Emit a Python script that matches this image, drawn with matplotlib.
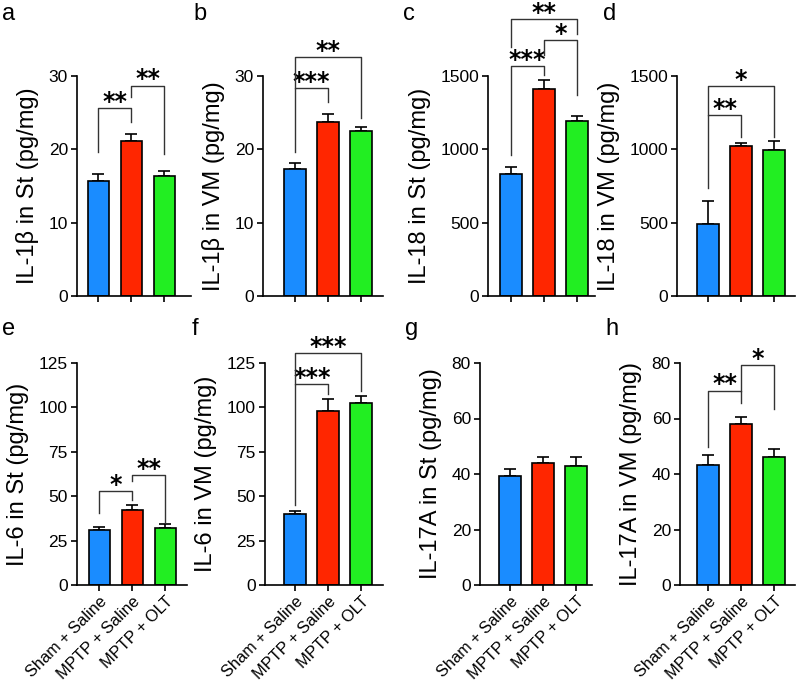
import matplotlib
matplotlib.use("Agg")
import matplotlib.pyplot as plt

plt.rcParams['font.family'] = ['Liberation Sans', 'DejaVu Sans']

groups = ["Sham + Saline", "MPTP + Saline", "MPTP + OLT"]
colors = ["#1a8cff", "#ff2600", "#22ee22"]

il1b_st = [15.7, 21.1, 16.4]
il1b_st_err = [1.0, 0.95, 0.6]
il1b_vm = [17.3, 23.7, 22.5]
il1b_vm_err = [0.8, 1.1, 0.5]
il18_st = [832, 1409, 1191]
il18_st_err = [50, 64, 34]
il18_vm = [491, 1025, 995]
il18_vm_err = [157, 20, 62]
il6_st = [31.2, 42.2, 32.0]
il6_st_err = [1.3, 2.7, 2.2]
il6_vm = [40.0, 98.2, 102.3]
il6_vm_err = [1.7, 6.4, 4.3]
il17_st = [39.4, 43.9, 42.8]
il17_st_err = [2.5, 2.2, 3.3]
il17_vm = [43.1, 58.0, 46.3]
il17_vm_err = [3.8, 2.4, 2.8]

# significance brackets: (left bar, right bar, top, left leg end, right leg end, label)
sig_a = [(0, 1, 25.6, 19.65, 23.7, "**"), (1, 2, 28.7, 27.1, 19.3, "**")]
sig_b = [(0, 1, 28.3, 19.65, 26.4, "***"), (0, 2, 32.6, 28.3, 24.3, "**")]
sig_c = [(0, 1, 1568, 960, 1504, "***"), (1, 2, 1743, 1645, 1373, "*"),
         (0, 2, 1886, 1697, 1788, "**")]
sig_d = [(0, 1, 1232, 733, 1085, "**"), (0, 2, 1432, 1232, 1085, "*")]
sig_e = [(0, 1, 53.0, 40.8, 47.9, "*"), (1, 2, 62.0, 58.3, 35.3, "**")]
sig_f = [(0, 1, 113.2, 45.1, 107.3, "***"), (0, 2, 130.6, 113.2, 109.4, "***")]
sig_g = []
sig_h = [(0, 1, 70.0, 49.9, 65.6, "**"), (1, 2, 79.2, 70.0, 63.4, "*")]

panels = [
    ("a", il1b_st, il1b_st_err, "IL-1β in St (pg/mg)", 30, [0, 10, 20, 30], sig_a),
    ("b", il1b_vm, il1b_vm_err, "IL-1β in VM (pg/mg)", 30, [0, 10, 20, 30], sig_b),
    ("c", il18_st, il18_st_err, "IL-18 in St (pg/mg)", 1500, [0, 500, 1000, 1500], sig_c),
    ("d", il18_vm, il18_vm_err, "IL-18 in VM (pg/mg)", 1500, [0, 500, 1000, 1500], sig_d),
    ("e", il6_st, il6_st_err, "IL-6 in St (pg/mg)", 125, [0, 25, 50, 75, 100, 125], sig_e),
    ("f", il6_vm, il6_vm_err, "IL-6 in VM (pg/mg)", 125, [0, 25, 50, 75, 100, 125], sig_f),
    ("g", il17_st, il17_st_err, "IL-17A in St (pg/mg)", 80, [0, 20, 40, 60, 80], sig_g),
    ("h", il17_vm, il17_vm_err, "IL-17A in VM (pg/mg)", 80, [0, 20, 40, 60, 80], sig_h),
]

# layout in pixels: (left, right, top, bottom, xmin, letter x, letter baseline)
boxes = [
    (77, 191, 76, 296, -0.65, 2, 20),
    (263, 383, 76, 296, -0.97, 193, 20),
    (488, 595, 76, 296, -0.70, 403, 20),
    (677, 795, 76, 296, -0.94, 603, 20),
    (77, 187, 363, 585, -0.68, 2, 335),
    (265, 383, 363, 585, -0.92, 192, 335),
    (480, 592, 363, 585, -0.91, 405, 335),
    (680, 795, 363, 585, -0.85, 605, 335),
]

W, H = 797, 686
fig = plt.figure(figsize=(W / 100, H / 100), dpi=100)

for k, (letter, vals, errs, ylabel, ymax, yticks, sigs) in enumerate(panels):
    left, right, top, bottom, xmin, lx, ly = boxes[k]
    ax = fig.add_axes([left / W, 1 - bottom / H, (right - left) / W, (bottom - top) / H])
    x = range(len(vals))
    ax.bar(x, vals, width=0.66, color=colors, edgecolor="black", linewidth=1.2, zorder=2)
    ax.errorbar(x, vals, yerr=[[0] * 3, errs], fmt="none", ecolor="black",
                elinewidth=1.2, capsize=4.5, capthick=1.2, zorder=1)
    ax.set_xlim(xmin, xmin + (right - left) / 33)
    ax.set_ylim(0, ymax)
    ax.set_yticks(yticks)
    ax.set_xticks(list(x))
    if k >= 4:
        ax.set_xticklabels(groups, rotation=45, ha="right", rotation_mode="anchor",
                           fontsize=11.8)
    else:
        ax.set_xticklabels([])
    ax.tick_params(axis="y", labelsize=12.5, width=1.2, length=4.5, pad=2)
    ax.tick_params(axis="x", width=1.2, length=4, pad=2.5)
    for s in ["top", "right"]:
        ax.spines[s].set_visible(False)
    for s in ["left", "bottom"]:
        ax.spines[s].set_linewidth(1.2)
    ax.set_ylabel(ylabel, fontsize=17, labelpad=7)
    fig.text(lx / W, 1 - ly / H, letter, fontsize=17, va="baseline", ha="left")

    for (i, j, yt, yl, yr, lab) in sigs:
        ax.plot([i, i, j, j], [yl, yt, yt, yr], color="#333333", lw=1.0,
                clip_on=False, zorder=3)
        ax.annotate(lab, xy=((i + j) / 2, yt), xytext=(0, -0.5), textcoords="offset points",
                    ha="center", va="baseline", fontsize=17, fontweight="bold",
                    family="DejaVu Sans", annotation_clip=False)

fig.savefig("out.png", dpi=100)
